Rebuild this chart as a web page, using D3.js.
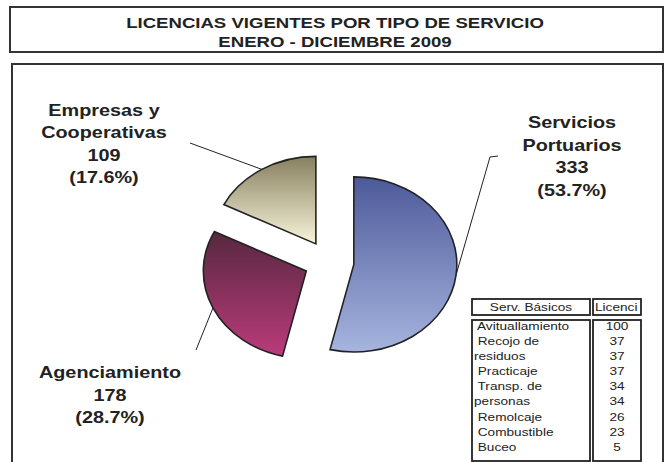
<!DOCTYPE html>
<html>
<head>
<meta charset="utf-8">
<script src="https://cdn.jsdelivr.net/npm/d3@7"></script>
<style>
  body { margin: 0; background: #fff; }
  svg { display: block; font-family: "Liberation Sans", Arial, sans-serif; }
  text { white-space: pre; }
</style>
</head>
<body>
<div id="chart"></div>
<script>
// pie data
const categories = ["Servicios Portuarios", "Agenciamiento", "Empresas y Cooperativas"];
const values = [333, 178, 109];
const labelLines = [
  ["Servicios", "Portuarios"],
  ["Agenciamiento"],
  ["Empresas y", "Cooperativas"]
];

// table data (rows as printed, names wrap onto two rows)
const tableHeaders = ["Serv. Básicos", "Licenci"];
const tableNames = [" Avituallamiento", " Recojo de", "residuos", " Practicaje", " Transp. de",
  "personas", " Remolcaje", " Combustible", " Buceo"];
const tableValues = [100, 37, 37, 37, 34, 34, 26, 23, 5];

const titleLines = ["LICENCIAS VIGENTES POR TIPO DE SERVICIO", "ENERO - DICIEMBRE 2009"];

const gradients = [
  ["#4d5a9a", "#a6b4df"],
  ["#56283f", "#bb3b7b"],
  ["#86805f", "#f9f5da"]
];

const W = 667, H = 462;
const stretch = 1.24;   // the original picture is stretched sideways
const cx = 329, cy = 262, rx = 103, ratio = 0.85, explode = 25;

const svg = d3.select("#chart").append("svg")
  .attr("width", W).attr("height", H);

const defs = svg.append("defs");
gradients.forEach((g, i) => {
  const lg = defs.append("linearGradient")
    .attr("id", "grad" + i)
    .attr("x1", 0).attr("y1", 0).attr("x2", 0).attr("y2", 1);
  lg.append("stop").attr("offset", "0%").attr("stop-color", g[0]);
  lg.append("stop").attr("offset", "100%").attr("stop-color", g[1]);
});

// frames
svg.append("rect").attr("x", 10).attr("y", 7).attr("width", 653).attr("height", 45)
  .attr("fill", "#fff").attr("stroke", "#333").attr("stroke-width", 2);
svg.append("rect").attr("x", 12).attr("y", 64).attr("width", 651).attr("height", 410)
  .attr("fill", "#fff").attr("stroke", "#333").attr("stroke-width", 2);

const stretchedText = (parent, x, y, str, size, weight, anchor) =>
  parent.append("text")
    .attr("transform", `translate(${x},${y}) scale(${stretch},1)`)
    .attr("text-anchor", anchor || "middle")
    .attr("font-size", size)
    .attr("font-weight", weight || "normal")
    .attr("fill", "#222")
    .text(str);

titleLines.forEach((t, i) => stretchedText(svg, 335, 27.5 + i * 19.5, t, 15, "bold"));

// pie
const pie = d3.pie().sort(null).value(d => d)(values);
const total = d3.sum(values);
const arc = d3.arc().innerRadius(0).outerRadius(rx);

const pieG = svg.append("g")
  .attr("transform", `translate(${cx},${cy}) scale(1,${ratio})`);

const mid = d => (d.startAngle + d.endAngle) / 2;

pieG.selectAll("path")
  .data(pie)
  .join("path")
  .attr("transform", d => `translate(${explode * Math.sin(mid(d))},${-explode * Math.cos(mid(d))})`)
  .attr("d", arc)
  .attr("fill", (d, i) => `url(#grad${i})`)
  .attr("stroke", "#222")
  .attr("stroke-width", 1.6)
  .attr("vector-effect", "non-scaling-stroke");

// edge point of each slice at its mid angle, in page coordinates
const edgePoint = d => {
  const a = mid(d);
  return [cx + (explode + rx) * Math.sin(a), cy - (explode + rx) * Math.cos(a) * ratio];
};

// label placement (layout only)
const labelPos = [
  { x: 572, y: 128, line: [[498, 156], [490, 157]] },
  { x: 110, y: 378, line: [[196, 350]] },
  { x: 104, y: 115.5, line: [[190, 143]] }
];

const fmt = d3.format(".1f");
pie.forEach((d, i) => {
  const p = labelPos[i];
  const pts = p.line.concat([edgePoint(d)]);
  svg.append("path")
    .attr("d", d3.line()(pts))
    .attr("fill", "none")
    .attr("stroke", "#222")
    .attr("stroke-width", 1);
  const lines = labelLines[i].concat([String(values[i]), `(${fmt(values[i] / total * 100)}%)`]);
  lines.forEach((t, j) => stretchedText(svg, p.x, p.y + j * 22.6, t, 16, "bold"));
});

// table
const tbl = svg.append("g");
const cols = [{ x: 472, w: 118 }, { x: 593, w: 48 }];
cols.forEach(c => {
  tbl.append("rect").attr("x", c.x).attr("y", 299).attr("width", c.w).attr("height", 16)
    .attr("fill", "#fff").attr("stroke", "#222").attr("stroke-width", 1.8);
  tbl.append("rect").attr("x", c.x).attr("y", 320).attr("width", c.w).attr("height", 141)
    .attr("fill", "#fff").attr("stroke", "#222").attr("stroke-width", 1.8);
});
stretchedText(tbl, 531, 311, tableHeaders[0], 11);
stretchedText(tbl, 595, 311, tableHeaders[1], 11, "normal", "start");

const rowY = d3.scalePoint()
  .domain(d3.range(tableNames.length))
  .range([325.5, 447]);

tableNames.forEach((n, i) => {
  stretchedText(tbl, 474, rowY(i) + 4, n, 11, "normal", "start");
  stretchedText(tbl, 617, rowY(i) + 4, String(tableValues[i]), 11);
});
</script>
</body>
</html>
